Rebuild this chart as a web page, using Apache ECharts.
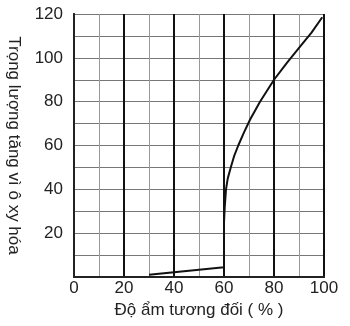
<!DOCTYPE html>
<html>
<head>
<meta charset="utf-8">
<script src="https://cdn.jsdelivr.net/npm/echarts@6/dist/echarts.min.js"></script>
<style>
  html, body { margin: 0; padding: 0; background: #fff; }
  #chart { width: 350px; height: 326px; }
</style>
</head>
<body>
<div id="chart"></div>
<script>
// relative humidity (%) vs weight gain from oxidation
var humidity   = [30, 60, 60, 60.3, 60.8, 61.5, 62.7, 64, 65.7, 68, 70.5, 74.4, 80, 85, 90, 95, 99.3];
var weightGain = [1, 4.5, 25, 32, 40, 45, 50, 55, 60, 66, 72, 80, 90, 97.5, 104.5, 111.5, 118.5];
var xTicks = [0, 20, 40, 60, 80, 100];
var yTicks = [20, 40, 60, 80, 100, 120];

var chart = echarts.init(document.getElementById('chart'));
var font = 'Liberation Sans, Arial, sans-serif';
var pts = [];
for (var i = 0; i < humidity.length; i++) {
    pts.push([humidity[i], weightGain[i]]);
}

chart.setOption({
    animation: false,
    grid: { left: 74, right: 26, top: 14, bottom: 49, outerBoundsMode: 'none', containLabel: false },
    xAxis: [{
        type: 'value', min: 0, max: 100, interval: 10,
        name: 'Độ ẩm tương đối ( % )', nameLocation: 'middle', nameGap: 20,
        nameTextStyle: { fontFamily: font, fontSize: 17, color: '#222' },
        axisLine: { show: true, lineStyle: { color: '#222', width: 2 } },
        axisTick: { show: false },
        axisLabel: {
            fontFamily: font, fontSize: 17, color: '#222', margin: 3,
            formatter: function (v) { return xTicks.indexOf(v) >= 0 ? v : ''; }
        },
        splitLine: { show: true, lineStyle: { color: '#999', width: 1 } }
    }, {
        type: 'value', min: 0, max: 100, interval: 20, position: 'top',
        axisLine: { show: true, lineStyle: { color: '#222', width: 2 } },
        axisTick: { show: false }, axisLabel: { show: false },
        splitLine: { show: true, lineStyle: { color: '#111', width: 2 } }
    }],
    yAxis: [{
        type: 'value', min: 0, max: 120, interval: 10,
        name: 'Trọng lượng tăng vì ô xy hóa', nameLocation: 'middle', nameGap: 52, nameRotate: -90,
        nameTextStyle: { fontFamily: font, fontSize: 17, color: '#222' },
        axisLine: { show: true, lineStyle: { color: '#222', width: 2 } },
        axisTick: { show: false },
        axisLabel: {
            fontFamily: font, fontSize: 17, color: '#222', margin: 11,
            formatter: function (v) { return yTicks.indexOf(v) >= 0 ? v : ''; }
        },
        splitLine: { show: true, lineStyle: { color: '#777', width: 1 } }
    }, {
        type: 'value', min: 0, max: 120, interval: 10, position: 'right',
        axisLine: { show: true, lineStyle: { color: '#222', width: 2 } },
        axisTick: { show: false }, axisLabel: { show: false },
        splitLine: { show: false }
    }],
    series: [{
        type: 'line',
        data: pts,
        showSymbol: false,
        lineStyle: { color: '#111', width: 2 }
    }]
});
</script>
</body>
</html>
